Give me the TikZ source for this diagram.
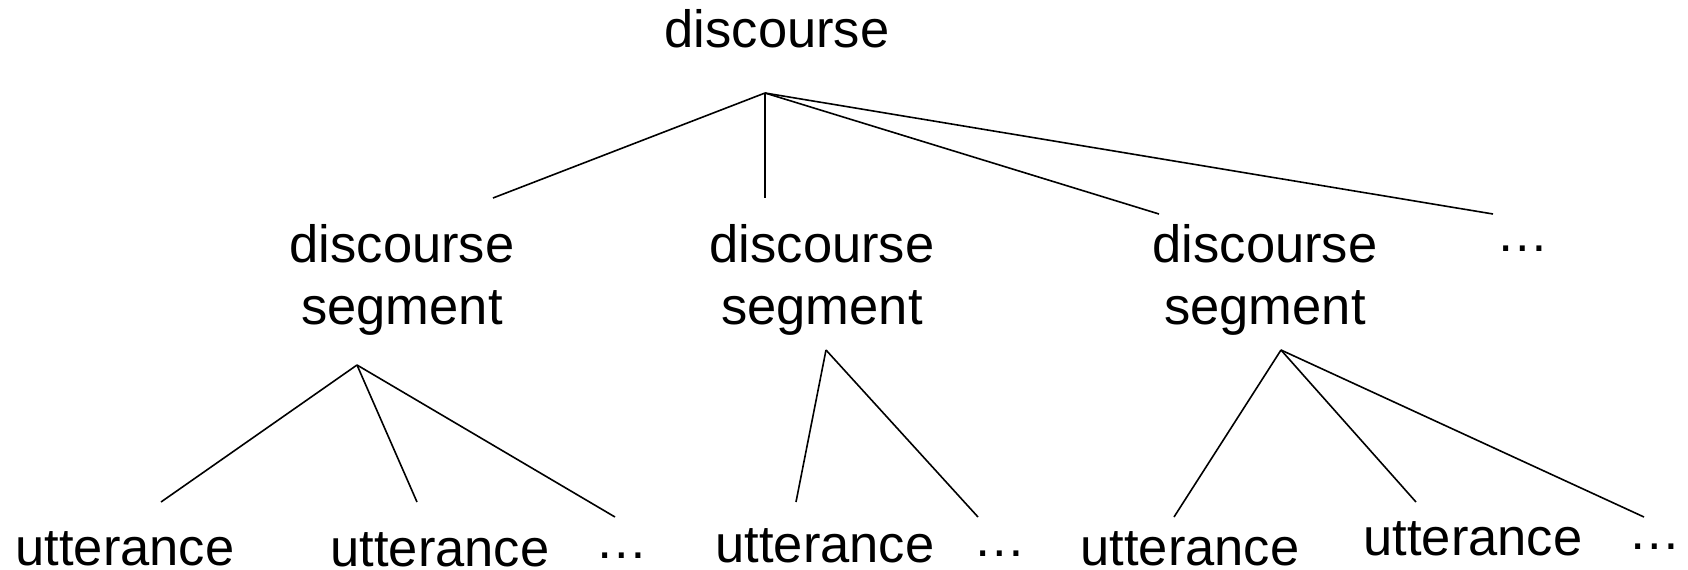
\documentclass[tikz,border=0pt]{standalone}
\usepackage{fontspec}
\setmainfont{Liberation Sans}
\usetikzlibrary{calc}

\begin{document}
\begin{tikzpicture}[x=0.5pt,y=-0.5pt,
  every node/.style={inner sep=0pt,anchor=base,
    font=\fontsize{26.25}{31}\selectfont},
  leaf/.style={text depth=0pt},
  branch/.style={line width=0.8pt}]
\useasboundingbox (0,0) rectangle (1688,569);
% top level
\node (disc) at (777,47) {discourse};
\coordinate (disc-fork) at (765,93);
% discourse segments (base = last line)
\node[align=center] (seg1) at (402,324) {discourse\\segment};
\node[align=center] (seg2) at (822,324) {discourse\\segment};
\node[align=center] (seg3) at (1265,324) {discourse\\segment};
\node (segmore) at (1523,251) {…};
\coordinate (seg1-in) at (493,198);
\coordinate (seg2-in) at (765,198);
\coordinate (seg3-in) at (1159,214);
\coordinate (segmore-in) at (1493,214);
\coordinate (seg1-fork) at (357,365);
\coordinate (seg2-fork) at (826,350);
\coordinate (seg3-fork) at (1281,350);
% utterances
\node[leaf] (utt11) at (125,565) {utterance};
\node[leaf] (utt12) at (440,566) {utterance};
\node[leaf] (more1) at (622,558) {…};
\node[leaf] (utt21) at (825,562) {utterance};
\node[leaf] (more2) at (1000,556) {…};
\node[leaf] (utt31) at (1190,565) {utterance};
\node[leaf] (utt32) at (1473,555) {utterance};
\node[leaf] (more3) at (1655,549) {…};
\coordinate (utt11-in) at (161,502);
\coordinate (utt12-in) at (417,502);
\coordinate (more1-in) at (615,517);
\coordinate (utt21-in) at (796,502);
\coordinate (more2-in) at (978,517);
\coordinate (utt31-in) at (1174,517);
\coordinate (utt32-in) at (1416,502);
\coordinate (more3-in) at (1644,517);
% branches
\foreach \a/\b in {disc/seg1,disc/seg2,disc/seg3,disc/segmore,
  seg1/utt11,seg1/utt12,seg1/more1,seg2/utt21,seg2/more2,
  seg3/utt31,seg3/utt32,seg3/more3}
  \draw[branch] (\a-fork)--(\b-in);
\end{tikzpicture}
\end{document}
